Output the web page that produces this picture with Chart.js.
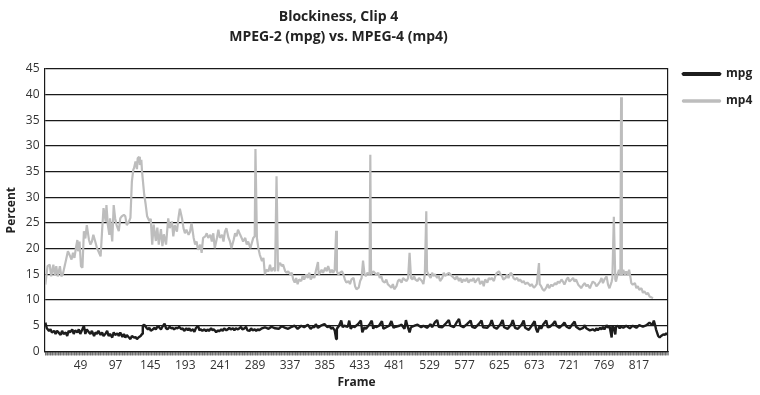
<!DOCTYPE html>
<html>
<head>
<meta charset="utf-8">
<script src="https://cdn.jsdelivr.net/npm/chart.js@4.4.1/dist/chart.umd.min.js"></script>
<style>
  html, body { margin: 0; padding: 0; background: #ffffff; }
  #wrap { width: 760px; height: 395px; }
</style>
</head>
<body>
<div id="wrap"><canvas id="c" width="760" height="395"></canvas></div>
<script>
// ---- data ----
const chartTitle = ['Blockiness, Clip 4', 'MPEG-2 (mpg) vs. MPEG-4 (mp4)'];
const seriesNames = ['mpg', 'mp4'];
const xTitle = 'Frame';
const yTitle = 'Percent';
const xLabelFrames = [49, 97, 145, 193, 241, 289, 337, 385, 433, 481, 529, 577, 625, 673, 721, 769, 817];
const yTickLabels = ['0', '5', '10', '15', '20', '25', '30', '35', '30', '35', '40', '45'];

const mp4Frames = [
  1,4,7,9,12,14,16,18,21,23,25,28,30,32,34,37,39,41,43,45,46,48,50,52,54,56,58,61,63,65,67,70,72,74,77,79,81,84,85,87,89,90,93,95,97,99,102,104,106,109,111,113,116,
  118,120,122,123,125,127,128,130,131,133,134,137,139,141,144,146,148,150,153,155,157,160,162,164,167,
  170,172,175,177,179,182,184,186,189,191,193,195,198,200,202,205,207,209,211,214,216,218,221,223,225,228,230,232,234,237,239,241,244,246,248,250,253,255,257,260,262,264,266,269,271,273,276,278,280,283,285,287,289,290,292,294,296,299,301,303,305,308,310,312,315,317,319,321,322,324,326,328,331,333,335,338,340,342,344,
  346,348,350,353,355,357,360,362,364,366,369,371,373,376,377,379,381,383,386,388,390,393,395,397,399,401,402,404,406,409,411,413,415,418,420,422,425,427,429,432,434,436,438,440,442,444,447,448,449,452,454,456,459,461,463,465,468,470,472,475,477,479,481,484,486,488,491,493,495,498,500,502,504,506,508,510,513,515,
  519,521,523,525,526,528,531,533,535,537,540,542,544,547,549,551,553,556,558,560,563,565,567,570,572,574,576,579,581,583,586,588,590,592,595,597,599,602,604,606,609,611,613,615,618,620,622,625,627,629,631,634,636,638,641,643,645,647,650,652,654,657,659,661,664,666,668,670,673,675,677,680,681,683,685,687,690,692,
  694,697,699,702,704,706,708,711,713,715,718,720,722,725,727,729,731,734,736,738,741,743,745,747,750,752,754,757,759,761,764,766,768,770,773,775,777,780,781,783,785,786,788,790,792,793,794,796,798,800,802,804,806,807,809,812,814,816,818,821,823,825,828,830,832,835,837
];
const mp4Values = [
  13.0,16.6,16.9,14.6,16.9,14.8,16.6,14.6,16.6,14.6,15.0,16.9,18.2,19.5,18.9,17.9,19.2,18.2,20.1,21.7,19.5,21.4,16.6,16.3,23.4,22.0,24.6,21.7,20.8,21.4,22.7,21.2,20.1,19.5,18.5,23.4,27.9,25.3,28.5,24.6,22.7,25.9,21.4,28.5,25.9,24.6,23.4,25.9,26.3,26.6,26.3,24.6,25.3,
  26.0,33.1,35.4,35.7,37.0,35.5,37.6,37.9,36.3,37.3,35.0,30.5,28.6,26.3,25.4,25.8,20.8,24.7,21.5,24.1,20.8,23.8,20.5,22.8,20.8,
  25.9,24.0,25.3,22.4,24.6,23.3,25.9,27.8,25.9,24.0,23.0,23.7,22.7,23.3,25.0,22.1,20.8,21.4,19.8,20.8,19.2,22.1,22.4,23.0,22.1,22.7,21.4,23.0,20.1,22.1,23.7,22.1,22.7,21.4,23.3,24.0,22.1,21.4,20.1,21.7,23.0,22.4,23.7,22.7,22.1,21.4,22.1,20.8,21.4,20.1,21.1,22.1,22.4,39.4,22.1,20.1,18.8,17.6,18.2,15.0,15.9,15.6,16.9,15.6,16.3,15.6,34.1,15.6,16.9,17.2,16.6,16.9,15.6,15.3,15.6,15.0,15.3,14.0,13.4,
  14.3,13.1,14.0,13.7,14.7,14.0,15.0,14.3,15.3,14.0,14.7,14.3,15.6,17.4,15.0,15.3,15.9,15.3,16.3,15.6,16.6,15.3,15.9,15.3,15.9,23.5,15.6,15.0,15.3,15.6,15.0,14.0,13.4,13.7,13.1,14.0,14.3,12.7,12.1,12.4,13.7,14.3,17.7,15.0,14.7,15.3,15.0,38.3,15.0,15.6,15.3,15.0,15.3,14.3,14.7,13.7,13.4,14.0,13.1,12.7,12.4,13.1,12.1,12.7,13.7,14.0,13.4,14.3,14.0,13.7,14.3,19.2,14.3,14.0,14.7,14.0,13.7,14.3,
  13.7,13.1,15.0,27.3,15.6,15.0,14.3,15.3,14.7,15.0,14.3,14.7,13.7,14.3,15.3,14.7,15.0,15.3,15.0,14.7,14.3,14.0,14.7,13.7,14.3,13.4,14.0,13.7,14.3,13.4,14.0,13.7,14.3,13.4,14.0,14.3,13.1,13.7,12.7,14.0,13.4,14.3,14.0,14.3,13.7,14.7,15.3,15.6,15.0,14.7,14.0,14.3,15.0,14.3,15.3,15.0,14.3,14.0,14.3,13.7,14.0,13.4,13.7,13.1,13.4,13.1,12.7,13.1,12.4,12.7,13.1,17.2,13.1,12.7,12.1,11.8,12.4,13.1,
  12.3,13.0,12.7,13.3,13.0,13.6,13.3,14.0,13.6,13.0,14.0,14.4,13.6,14.0,14.3,13.6,14.0,13.0,12.7,12.3,13.0,13.3,12.7,13.0,12.3,13.0,13.6,13.3,12.7,13.0,13.6,14.3,13.3,14.0,14.6,13.0,12.3,13.6,14.3,26.2,14.0,13.6,14.9,15.9,14.9,49.5,14.9,15.9,14.9,15.6,14.9,15.9,14.3,13.3,13.0,13.3,12.3,12.7,12.0,12.3,11.4,11.7,11.1,11.4,10.7,10.5,10.4
];

const mpgFrames = [
  1,3,6,8,10,13,15,17,19,22,24,26,29,31,33,35,38,40,42,45,47,49,51,54,56,58,61,63,65,68,70,72,74,77,79,81,84,86,88,90,93,95,97,100,102,104,107,109,111,113,116,118,120,123,125,127,129,132,134,
  135,137,140,142,144,146,149,151,153,156,158,160,162,165,167,169,172,174,176,178,181,183,185,188,190,192,195,197,199,201,204,206,208,211,213,215,217,220,222,224,226,229,231,233,236,238,240,243,245,247,250,252,254,256,259,261,263,266,268,270,272,275,277,279,282,284,286,289,291,293,295,
  299,303,308,312,317,322,326,331,335,340,344,
  348,353,357,362,366,369,371,373,376,380,385,389,392,394,396,399,401,402,405,408,410,412,417,419,421,424,426,431,435,437,440,442,447,450,452,454,456,460,464,466,470,474,477,480,483,488,491,495,497,499,502,504,509,513,518,
  521,526,531,533,537,540,542,547,551,556,558,563,567,570,572,576,581,586,588,592,597,601,603,609,613,615,618,622,627,630,632,637,642,644,647,651,656,659,661,666,670,674,676,678,681,683,686,690,692,
  695,699,702,704,708,712,715,718,722,726,729,731,736,741,743,745,750,754,757,759,761,764,766,768,770,773,775,777,780,781,783,785,786,789,791,793,796,800,805,809,814,818,823,828,832,836,838,840,841,844,846,848,851,853,855,857
];
const mpgValues = [
  5.6,4.5,4.0,4.3,3.7,4.0,3.4,4.0,3.7,3.2,4.0,3.4,3.7,3.0,4.0,3.7,4.3,3.4,4.1,3.7,4.3,3.4,4.0,5.0,3.4,4.3,3.7,3.4,4.0,3.0,3.7,3.4,4.0,3.2,3.7,3.0,3.5,4.0,3.0,3.4,2.7,3.7,3.2,3.5,3.0,3.7,2.8,3.4,2.7,3.2,2.7,2.4,3.0,2.7,2.8,2.4,2.7,3.0,3.4,
  5.0,5.2,4.6,4.3,4.6,4.0,4.3,4.6,4.3,5.0,4.6,4.3,4.8,5.4,4.5,4.3,4.8,4.5,4.6,4.3,4.6,4.5,4.8,4.3,4.5,4.0,4.5,4.1,4.5,4.0,4.3,3.8,4.5,5.0,4.1,4.3,4.0,4.3,3.9,4.3,4.0,4.5,4.1,4.3,3.7,4.1,3.9,4.3,4.0,4.5,4.1,4.3,4.6,4.3,4.5,4.1,4.5,4.3,4.5,4.8,4.3,4.5,4.8,4.1,4.0,4.5,4.1,4.3,4.0,4.3,4.1,
  4.5,4.7,4.4,4.8,4.5,4.4,4.9,4.6,4.4,4.8,5.0,
  4.4,5.0,4.7,5.2,4.4,4.8,4.7,5.3,4.6,5.0,5.3,4.7,5.0,4.4,4.7,4.1,2.4,4.4,5.0,6.0,4.7,5.0,4.8,6.0,4.4,5.0,4.7,5.3,6.0,3.7,4.7,4.4,5.3,6.0,4.4,5.0,4.7,5.0,5.9,4.4,4.7,5.0,5.9,4.6,4.8,5.0,5.2,4.4,6.1,5.0,3.7,4.7,5.0,5.2,4.7,
  5.0,4.6,5.3,4.7,5.7,6.1,4.8,4.7,5.3,6.1,5.0,4.7,5.7,6.3,5.0,4.7,5.3,6.0,4.8,4.6,5.3,6.0,4.7,4.6,5.3,6.1,4.7,4.4,5.3,6.1,4.7,4.4,5.3,6.1,4.6,4.4,5.2,6.0,4.6,4.2,5.0,5.9,4.4,3.7,5.0,4.4,5.3,6.0,4.7,
  4.8,5.3,5.9,5.0,4.6,5.1,5.6,4.8,4.5,5.3,5.8,4.8,4.3,4.6,5.1,4.5,4.1,4.3,4.0,4.5,4.1,4.6,4.3,4.8,4.3,5.1,4.6,5.0,2.7,5.0,4.6,3.3,4.8,5.0,4.5,4.8,4.6,5.0,4.5,5.0,4.6,5.1,4.8,5.1,5.6,5.1,6.0,5.0,4.3,3.0,2.7,3.0,3.3,3.2,3.5,3.3
];

// ---- chart ----
Chart.defaults.font.family = "'Open Sans', 'Noto Sans', 'DejaVu Sans', sans-serif";
Chart.defaults.color = '#333333';

const toPoints = (fr, vals) => fr.map((f, i) => ({ x: f, y: vals[i] }));

// centre the title over the area left of the legend, as in the reference
const titleCentre = {
  id: 'titleCentre',
  afterLayout(chart) {
    const t = chart.titleBlock;
    if (t) { t.left = 9; t.width = t.right - t.left; }
  }
};

new Chart(document.getElementById('c'), {
  type: 'line',
  data: {
    datasets: [
      {
        label: seriesNames[0],
        data: toPoints(mpgFrames, mpgValues),
        borderColor: '#1d1d1d',
        backgroundColor: '#1d1d1d',
        borderWidth: 2.4,
        borderJoinStyle: 'bevel',
        pointRadius: 0,
        tension: 0
      },
      {
        label: seriesNames[1],
        data: toPoints(mp4Frames, mp4Values),
        borderColor: '#bdbdbd',
        backgroundColor: '#bdbdbd',
        borderWidth: 2.2,
        borderJoinStyle: 'bevel',
        pointRadius: 0,
        tension: 0
      }
    ]
  },
  plugins: [titleCentre],
  options: {
    responsive: false,
    animation: false,
    devicePixelRatio: 1,
    layout: { padding: 0 },
    plugins: {
      title: {
        display: true,
        text: chartTitle,
        fullSize: false,
        color: '#222222',
        font: { size: 14, weight: 'bold', lineHeight: 1.42 },
        padding: { top: 7, bottom: 22.2 }
      },
      legend: {
        display: true,
        position: 'right',
        align: 'start',
        maxWidth: 92,
        title: { display: true, text: ' ', font: { size: 12, lineHeight: 1.2 }, padding: { top: 38.6, bottom: 0 } },
        labels: {
          boxWidth: 37,
          boxHeight: 1.5,
          padding: 15,
          color: '#222222',
          font: { size: 12, weight: 'bold' }
        }
      },
      tooltip: { enabled: false }
    },
    scales: {
      x: {
        type: 'linear',
        min: 0.5,
        max: 857.5,
        ticks: {
          stepSize: 1,
          autoSkip: false,
          maxRotation: 0,
          minRotation: 0,
          padding: 3,
          color: '#333333',
          font: { size: 12 },
          callback: (v) => (xLabelFrames.includes(v - 0.5) ? String(v - 0.5) : '')
        },
        grid: { drawOnChartArea: false, drawTicks: true, tickLength: 4, color: '#555555', lineWidth: 0.6 },
        border: { display: true, color: '#1a1a1a', width: 1.2 },
        title: { display: true, text: xTitle, color: '#222222', font: { size: 12, weight: 'bold' }, padding: { top: 0, bottom: 4.8 } }
      },
      y: {
        min: 0,
        max: 55,
        afterFit: (s) => { s.width = 45; },
        ticks: {
          stepSize: 5,
          padding: 5.5,
          color: '#333333',
          font: { size: 12 },
          callback: (v, i) => yTickLabels[i]
        },
        grid: { color: '#1a1a1a', lineWidth: 1.2, drawTicks: false },
        border: { display: true, color: '#1a1a1a', width: 1.2 },
        title: { display: true, text: yTitle, color: '#222222', font: { size: 12, weight: 'bold' }, padding: { top: 4.8, bottom: 0 } }
      },
      y2: {
        position: 'right',
        min: 0,
        max: 55,
        afterFit: (s) => { s.width = 0; },
        ticks: { display: false },
        grid: { display: false, drawTicks: false },
        border: { display: true, color: '#1a1a1a', width: 1.2 }
      }
    }
  }
});
</script>
</body>
</html>
